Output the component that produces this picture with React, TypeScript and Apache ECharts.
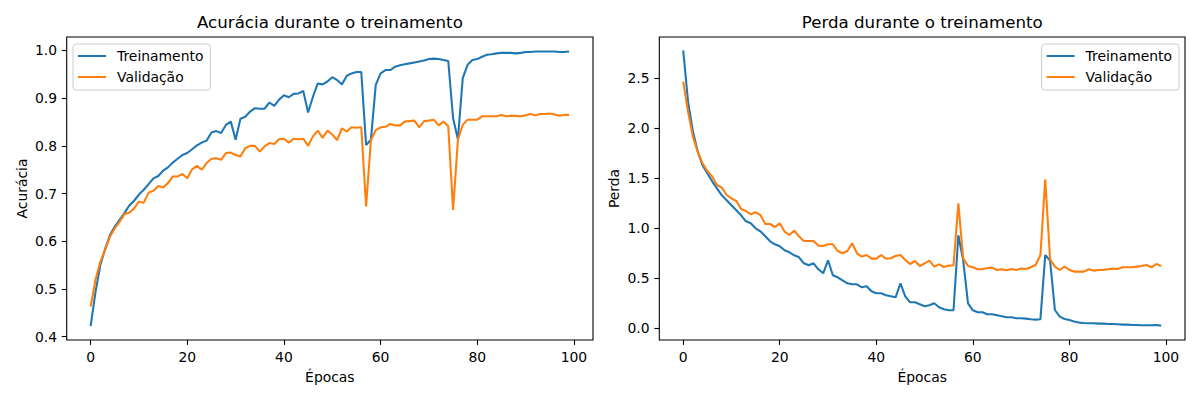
import React, { useEffect, useRef } from "react";
import * as echarts from "echarts";

const epochs: number[] = Array.from({ length: 100 }, (_, i) => i);

const trainAcc: number[] = [
  0.422, 0.493, 0.55, 0.584, 0.613, 0.631, 0.645, 0.659, 0.675, 0.685,
  0.698, 0.708, 0.72, 0.732, 0.737, 0.748, 0.755, 0.765, 0.773, 0.781,
  0.785, 0.793, 0.801, 0.807, 0.811, 0.828, 0.831, 0.827, 0.844, 0.851,
  0.813, 0.857, 0.861, 0.872, 0.879, 0.878, 0.878, 0.891, 0.884, 0.897,
  0.906, 0.902, 0.909, 0.91, 0.915, 0.87, 0.903, 0.931, 0.929, 0.935,
  0.944, 0.938, 0.929, 0.947, 0.952, 0.955, 0.955, 0.802, 0.813, 0.928,
  0.952, 0.959, 0.959, 0.966, 0.969, 0.971, 0.973, 0.975, 0.977, 0.979,
  0.982, 0.983, 0.982, 0.98, 0.978, 0.858, 0.814, 0.942, 0.97, 0.98,
  0.982, 0.987, 0.991, 0.992, 0.994, 0.995, 0.995, 0.995, 0.994, 0.995,
  0.997, 0.997, 0.998, 0.998, 0.998, 0.998, 0.998, 0.997, 0.997, 0.998,
];

const valAcc: number[] = [
  0.463, 0.519, 0.557, 0.582, 0.61, 0.627, 0.641, 0.657, 0.66, 0.669,
  0.683, 0.681, 0.702, 0.706, 0.716, 0.713, 0.722, 0.736, 0.736, 0.741,
  0.732, 0.751, 0.758, 0.75, 0.764, 0.773, 0.774, 0.771, 0.785, 0.786,
  0.781, 0.778, 0.795, 0.8, 0.8, 0.788, 0.799, 0.806, 0.804, 0.814,
  0.815, 0.807, 0.815, 0.814, 0.815, 0.8, 0.82, 0.832, 0.817, 0.832,
  0.824, 0.812, 0.837, 0.83, 0.839, 0.838, 0.839, 0.673, 0.812, 0.833,
  0.839, 0.84, 0.846, 0.843, 0.843, 0.851, 0.852, 0.853, 0.839, 0.852,
  0.853, 0.855, 0.843, 0.851, 0.841, 0.666, 0.813, 0.844, 0.855, 0.855,
  0.855, 0.862, 0.862, 0.862, 0.862, 0.865, 0.862, 0.863, 0.863, 0.862,
  0.864, 0.867, 0.864, 0.867, 0.867, 0.868, 0.866, 0.863, 0.865, 0.865,
];

const trainLoss: number[] = [
  2.78, 2.27, 1.97, 1.77, 1.63, 1.55, 1.47, 1.4, 1.33, 1.28,
  1.23, 1.18, 1.13, 1.07, 1.05, 1.0, 0.97, 0.92, 0.87, 0.84,
  0.82, 0.78, 0.76, 0.73, 0.71, 0.65, 0.63, 0.65, 0.59, 0.55,
  0.68, 0.53, 0.51, 0.48, 0.45, 0.44, 0.44, 0.41, 0.42, 0.37,
  0.35, 0.35, 0.33, 0.32, 0.31, 0.45, 0.32, 0.26, 0.26, 0.24,
  0.22, 0.23, 0.25, 0.21, 0.19, 0.18, 0.18, 0.93, 0.68, 0.25,
  0.18, 0.16, 0.16, 0.14, 0.14, 0.13, 0.12, 0.11, 0.11, 0.1,
  0.1, 0.097, 0.09, 0.087, 0.09, 0.733, 0.677, 0.183, 0.117, 0.093,
  0.083, 0.067, 0.057, 0.053, 0.05, 0.05, 0.047, 0.047, 0.043, 0.043,
  0.04, 0.037, 0.037, 0.033, 0.033, 0.03, 0.03, 0.03, 0.033, 0.027,
];

const valLoss: number[] = [
  2.467, 2.167, 1.917, 1.767, 1.65, 1.573, 1.517, 1.433, 1.407, 1.333,
  1.3, 1.273, 1.193, 1.173, 1.14, 1.16, 1.133, 1.043, 1.043, 1.013,
  1.05, 0.967, 0.933, 0.977, 0.917, 0.873, 0.873, 0.873, 0.827, 0.823,
  0.84, 0.84, 0.773, 0.75, 0.773, 0.85, 0.75, 0.717, 0.733, 0.697,
  0.697, 0.733, 0.697, 0.7, 0.723, 0.733, 0.683, 0.643, 0.673, 0.623,
  0.65, 0.677, 0.617, 0.64, 0.613, 0.627, 0.63, 1.25, 0.7, 0.623,
  0.61, 0.59, 0.59, 0.603, 0.607, 0.583, 0.59, 0.58, 0.593, 0.583,
  0.597, 0.593, 0.61, 0.633, 0.733, 1.49, 0.69, 0.617, 0.583, 0.617,
  0.583, 0.567, 0.567, 0.567, 0.59, 0.577, 0.583, 0.583, 0.59, 0.597,
  0.593, 0.61, 0.61, 0.61, 0.617, 0.623, 0.633, 0.61, 0.643, 0.623,
];

const xTicks: number[] = [0, 20, 40, 60, 80, 100];
const accTicks: number[] = [0.4, 0.5, 0.6, 0.7, 0.8, 0.9, 1.0];
const lossTicks: number[] = [0.0, 0.5, 1.0, 1.5, 2.0, 2.5];

const seriesNames = ["Treinamento", "Validação"];
const titles = ["Acurácia durante o treinamento", "Perda durante o treinamento"];
const yNames = ["Acurácia", "Perda"];
const xName = "Épocas";

const FONT = "DejaVu Sans";
const BLUE = "#1f77b4";
const ORANGE = "#ff7f0e";

export default function App() {
  const ref = useRef<HTMLDivElement>(null);

  useEffect(() => {
    document.body.style.margin = "0";
    if (!ref.current) return;
    const chart = echarts.init(ref.current, undefined, { renderer: "svg" });

    const grids = [
      { left: 66.7, top: 37, width: 526.3, height: 303 },
      { left: 659.3, top: 37, width: 525.7, height: 303 },
    ];

    const tickStyle = { show: true, length: 4.9, lineStyle: { color: "#000", width: 1.1 } };

    const xAxis = [0, 1].map((g) => ({
      type: "value",
      gridIndex: g,
      position: "bottom",
      min: -4.95,
      max: 103.95,
      name: xName,
      nameLocation: "middle",
      nameGap: 30,
      nameTextStyle: { fontFamily: FONT, fontSize: 13.9, color: "#000" },
      axisLine: { show: false, onZero: false },
      splitLine: { show: false },
      axisTick: { ...tickStyle, customValues: xTicks },
      axisLabel: {
        customValues: xTicks,
        margin: 9.7,
        fontFamily: FONT,
        fontSize: 13.9,
        color: "#000",
      },
    }));

    const yRanges = [
      { min: 0.3931, max: 1.0283, ticks: accTicks },
      { min: -0.117, max: 2.913, ticks: lossTicks },
    ];

    const yAxis = [0, 1].map((g) => ({
      type: "value",
      gridIndex: g,
      position: "left",
      min: yRanges[g].min,
      max: yRanges[g].max,
      name: yNames[g],
      nameLocation: "middle",
      nameGap: 38,
      nameTextStyle: { fontFamily: FONT, fontSize: 13.9, color: "#000" },
      axisLine: { show: false, onZero: false },
      splitLine: { show: false },
      axisTick: { ...tickStyle, customValues: yRanges[g].ticks },
      axisLabel: {
        customValues: yRanges[g].ticks,
        margin: 9.7,
        fontFamily: FONT,
        fontSize: 13.9,
        color: "#000",
        formatter: (v: number) => v.toFixed(1),
      },
    }));

    const mk = (name: string, vals: number[], color: string, g: number) => ({
      type: "line",
      name,
      xAxisIndex: g,
      yAxisIndex: g,
      data: epochs.map((e, i) => [e, vals[i]]),
      symbol: "none",
      showSymbol: false,
      lineStyle: { color, width: 2.08 },
      itemStyle: { color },
      z: color === BLUE ? 3 : 4,
    });

    const legendCommon = {
      orient: "vertical",
      top: 44,
      icon: "rect",
      itemWidth: 28,
      itemHeight: 2,
      itemGap: 5,
      padding: [4, 7, 5, 5],
      backgroundColor: "rgba(255,255,255,0.8)",
      borderColor: "#cccccc",
      borderWidth: 1,
      borderRadius: 3,
      textStyle: {
        fontFamily: FONT,
        fontSize: 13.9,
        lineHeight: 16,
        color: "#000",
        padding: [0, 0, 0, 6],
      },
    };

    const titleStyle = { fontFamily: FONT, fontSize: 16.67, fontWeight: "normal", color: "#000" };

    chart.setOption({
      animation: false,
      backgroundColor: "#fff",
      title: [
        { text: titles[0], left: 329.9, top: 14, textAlign: "center", padding: 0, textStyle: titleStyle },
        { text: titles[1], left: 922.2, top: 14, textAlign: "center", padding: 0, textStyle: titleStyle },
      ],
      grid: grids.map((g) => ({ ...g, show: true, borderColor: "#000", borderWidth: 1.1, backgroundColor: "#fff" })),
      xAxis,
      yAxis,
      legend: [
        {
          ...legendCommon,
          left: 73,
          data: [{ name: "acc-t" }, { name: "acc-v" }],
          formatter: (n: string) => (n === "acc-t" ? seriesNames[0] : seriesNames[1]),
        },
        {
          ...legendCommon,
          right: 21,
          data: [{ name: "loss-t" }, { name: "loss-v" }],
          formatter: (n: string) => (n === "loss-t" ? seriesNames[0] : seriesNames[1]),
        },
      ],
      series: [
        mk("acc-t", trainAcc, BLUE, 0),
        mk("acc-v", valAcc, ORANGE, 0),
        mk("loss-t", trainLoss, BLUE, 1),
        mk("loss-v", valLoss, ORANGE, 1),
      ],
    });

    return () => chart.dispose();
  }, []);

  return <div ref={ref} style={{ width: 1200, height: 400 }} />;
}
